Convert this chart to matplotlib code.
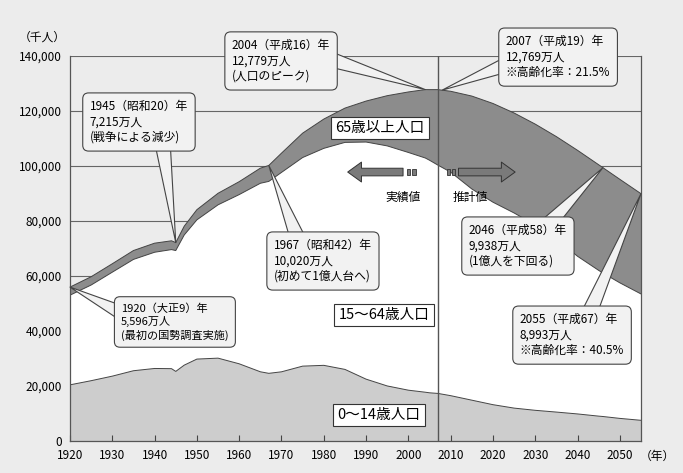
import numpy as np
import matplotlib.pyplot as plt
from matplotlib.patches import Rectangle
from matplotlib.ticker import FuncFormatter

plt.rcParams['font.family'] = ['Noto Sans CJK JP', 'DejaVu Sans']

# population of Japan (thousand people)
years = [1920, 1925, 1930, 1935, 1940, 1944, 1945, 1947, 1950, 1955, 1960, 1965, 1967,
         1970, 1975, 1980, 1985, 1990, 1995, 2000, 2004, 2005, 2007, 2010, 2015, 2020,
         2025, 2030, 2035, 2040, 2045, 2046, 2050, 2055]
total = [55963, 59737, 64450, 69254, 71933, 72800, 72147, 78101, 84115, 90077, 94302,
         99209, 100196, 104665, 111940, 117060, 121049, 123611, 125570, 126926, 127787,
         127768, 127771, 127176, 125430, 122735, 119270, 115224, 110679, 105695, 100443,
         99383, 95152, 89930]
age_0_14 = [20416, 21924, 23579, 25545, 26369, 26300, 25300, 27576, 29786, 30123, 28067,
            25166, 24600, 25153, 27221, 27507, 26033, 22486, 20014, 18472, 17734, 17521,
            17293, 16479, 14841, 13201, 11956, 11150, 10512, 9833, 9036, 8900, 8214, 7516]
age_65 = [2941, 3021, 3064, 3225, 3300, 3200, 2900, 3200, 3700, 4200, 4700, 5500, 5800,
          7000, 8865, 10647, 12468, 14895, 18261, 22005, 24876, 25672, 27464, 29412, 33781,
          35899, 36354, 36670, 37249, 38527, 38407, 38300, 37641, 36463]

years = np.array(years)
total = np.array(total)
age_0_14 = np.array(age_0_14)
age_65 = np.array(age_65)
age_15_64 = total - age_0_14 - age_65

bg = '#ececec'
edge = '#444444'

fig = plt.figure(figsize=(6.83, 4.73), dpi=100, facecolor=bg)
ax = fig.add_axes([0.1025, 0.0677, 0.836, 0.8139])
ax.set_facecolor(bg)

# gridlines behind the areas
for yv in range(20000, 140001, 20000):
    ax.axhline(yv, color='#666666', lw=0.8, zorder=0)

ax.stackplot(years, age_0_14, age_15_64, age_65,
             colors=['#cdcdcd', 'white', '#8c8c8c'], zorder=1)
ax.plot(years, age_0_14, color=edge, lw=0.7, zorder=2)
ax.plot(years, age_0_14 + age_15_64, color=edge, lw=0.7, zorder=2)
ax.plot(years, total, color=edge, lw=0.7, zorder=2)

ax.axvline(2007, color='#555555', lw=1.0, zorder=3)

ax.set_xlim(1920, 2055)
ax.set_ylim(0, 140000)
ax.set_xticks(range(1920, 2051, 10))
ax.set_yticks(range(0, 140001, 20000))
ax.yaxis.set_major_formatter(FuncFormatter(lambda v, p: f'{int(v):,}'))
ax.tick_params(axis='x', direction='in', length=4, width=0.8, color='#444444',
               labelsize=8.5, pad=6)
ax.tick_params(axis='y', length=0, labelsize=8.5, pad=6)
for s in ['left', 'bottom', 'right']:
    ax.spines[s].set_color('#555555')
    ax.spines[s].set_linewidth(0.9)
ax.spines['top'].set_visible(False)

fig.text(42 / 683, 1 - 37 / 473, '（千人）', fontsize=8.5, ha='center', va='center')
fig.text(657 / 683, 1 - 456 / 473, '（年）', fontsize=8.5, ha='center', va='center')

# callouts: text, point, text position, where the pointer leaves the box, font size
box = dict(boxstyle='round,pad=0.6,rounding_size=0.5', fc='#f2f2f2', ec='#444444', lw=0.8)
callouts = [
    ('1945（昭和20）年\n7,215万人\n(戦争による減少)', (1945, 72147), (1936.3, 116000), (0.74, 0.03), 8.5),
    ('2004（平成16）年\n12,779万人\n(人口のピーク)', (2004, 127787), (1969.9, 138200), (0.98, 0.55), 8.5),
    ('2007（平成19）年\n12,769万人\n※高齢化率：21.5%', (2008, 127600), (2035.4, 139600), (0.03, 0.35), 8.5),
    ('1967（昭和42）年\n10,020万人\n(初めて1億人台へ)', (1967, 100196), (1979.8, 65450), (0.25, 0.97), 8.5),
    ('1920（大正9）年\n5,596万人\n(最初の国勢調査実施)', (1920, 55963), (1944.8, 43300), (0.02, 0.72), 8.0),
    ('2046（平成58）年\n9,938万人\n(1億人を下回る)', (2046, 99383), (2025.9, 70900), (0.8, 0.97), 8.5),
    ('2055（平成67）年\n8,993万人\n※高齢化率：40.5%', (2055, 89930), (2038.7, 38500), (0.66, 0.97), 8.5),
]
for txt, xy, xyt, rp, fs in callouts:
    ax.annotate(txt, xy=xy, xytext=xyt, fontsize=fs, ha='center', va='center',
                multialignment='left', linespacing=1.25, bbox=box,
                arrowprops=dict(arrowstyle='wedge,tail_width=1.3,shrink_factor=0.5',
                                fc='#f2f2f2', ec='#444444', lw=0.8, patchA=None,
                                shrinkA=0, shrinkB=0, relpos=rp),
                zorder=6, annotation_clip=False)

# age group labels
lab = dict(boxstyle='square,pad=0.3', fc='white', ec='#333333', lw=0.8)
ax.text(1993.3, 113800, '65歳以上人口', fontsize=10.5, ha='center', va='center', bbox=lab, zorder=5)
ax.text(1994.2, 45800, '15〜64歳人口', fontsize=10.5, ha='center', va='center', bbox=lab, zorder=5)
ax.text(1993.0, 9450, '0〜14歳人口', fontsize=10.5, ha='center', va='center', bbox=lab, zorder=5)

# actual / projected arrows
arr = dict(arrowstyle='simple,head_length=0.9,head_width=1.3,tail_width=0.5',
           fc='#7a7a7a', ec='#333333', lw=0.7, mutation_scale=11)
ax.annotate('', xy=(1985.0, 97800), xytext=(1999.4, 97800), arrowprops=arr, zorder=5)
ax.annotate('', xy=(2025.9, 97800), xytext=(2011.2, 97800), arrowprops=arr, zorder=5)
for bx in [1999.7, 2000.9, 2009.1, 2010.2]:
    ax.add_patch(Rectangle((bx, 96600), 0.8, 2400, fc='#7a7a7a', ec='#333333',
                           lw=0.6, zorder=5))
ax.text(1998.7, 88700, '実績値', fontsize=8.5, ha='center', va='center', zorder=5)
ax.text(2014.6, 88700, '推計値', fontsize=8.5, ha='center', va='center', zorder=5)

fig.savefig('out.png', dpi=100, facecolor=bg)
